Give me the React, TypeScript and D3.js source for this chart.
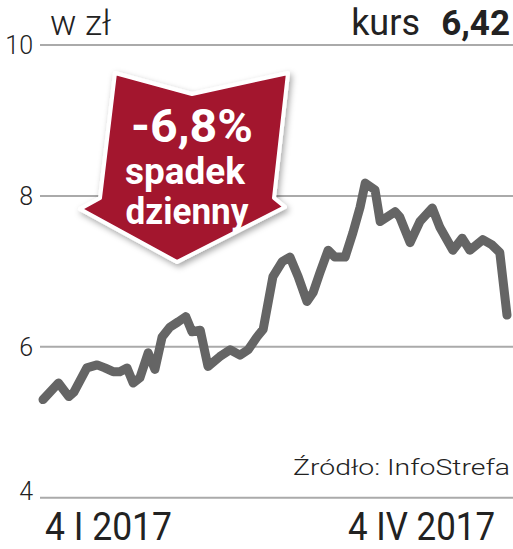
import React from "react";
import * as d3 from "d3";

// Calendar day offset from 4 I 2017, and closing price (zł)
const days = [0, 3, 5, 6, 8.5, 10.5, 12, 13.6, 14.9, 16.3, 17.5, 18.8, 20.4, 21.7, 23.1, 24.6, 26.2, 27.7, 28.9, 30.5, 32, 34.3, 36.3, 38.2, 39.8, 41.5, 42.7, 44.6, 46.4, 47.9, 49.5, 51.2, 52.4, 53.7, 55.3, 56.6, 58.6, 60.1, 61.5, 62.5, 64.4, 65.4, 68.3, 69.2, 71.2, 73.1, 75.5, 77, 79.5, 81.3, 82.8, 85.3, 87.1, 88.6, 90];
const values = [5.3, 5.52, 5.34, 5.4, 5.72, 5.76, 5.72, 5.67, 5.67, 5.72, 5.52, 5.59, 5.92, 5.7, 6.13, 6.26, 6.33, 6.4, 6.2, 6.22, 5.74, 5.87, 5.96, 5.89, 5.96, 6.13, 6.23, 6.93, 7.13, 7.19, 6.93, 6.6, 6.72, 6.98, 7.28, 7.19, 7.19, 7.51, 7.85, 8.17, 8.08, 7.66, 7.79, 7.72, 7.38, 7.66, 7.84, 7.58, 7.28, 7.44, 7.28, 7.42, 7.35, 7.25, 6.42];
const yTicks = [4, 6, 8, 10];
const xLabels = ["4 I 2017", "4 IV 2017"];
const unitLabel = "w zł";
const priceLabel = "kurs";
const priceValue = "6,42";
const changeLines = ["-6,8%", "spadek", "dzienny"];
const sourceLabel = "Źródło: InfoStrefa";

const W = 513;
const H = 549;

export default function App() {
  const x = d3.scaleLinear().domain([0, 90]).range([43, 507]);
  const y = d3.scaleLinear().domain([4, 10]).range([497.7, 45]);
  const line = d3
    .line<number>()
    .x((_, i) => x(days[i]))
    .y((d) => y(d));
  const pathD = line(values) || "";

  const arrowPts: [number, number][] = [
    [115, 73],
    [192, 94],
    [288, 73],
    [274, 198],
    [285, 207],
    [177, 262],
    [80, 209],
    [100, 198],
  ];
  const arrowD = "M" + arrowPts.map((p) => p.join(",")).join("L") + "Z";

  const font = "Roboto, 'DejaVu Sans', sans-serif";

  return (
    <svg
      width={W}
      height={H}
      viewBox={`0 0 ${W} ${H}`}
      style={{ position: "absolute", left: 0, top: 0, background: "#fff" }}
      fontFamily={font}
    >
      <defs>
        <filter id="sh" x="-20%" y="-20%" width="140%" height="140%">
          <feDropShadow dx="2" dy="3" stdDeviation="3" floodColor="#000" floodOpacity="0.35" />
        </filter>
      </defs>
      <rect width={W} height={H} fill="#fff" />
      {yTicks.map((t) => (
        <g key={t}>
          <line x1={40} x2={513} y1={y(t)} y2={y(t)} stroke="#aaaaaa" strokeWidth={2} />
          <text
            x={33}
            y={t === 4 ? y(t) + 2 : y(t) + 9}
            textAnchor="end"
            fontSize={25}
            fontWeight={300}
            fill="#222"
          >
            {t}
          </text>
        </g>
      ))}
      <text x={50} y={35} fontSize={35} fontWeight={300} fill="#222">
        {unitLabel}
      </text>
      <text x={420} y={35} textAnchor="end" fontSize={36} fontWeight={400} fill="#222">
        {priceLabel}
      </text>
      <text x={510} y={35} textAnchor="end" fontSize={35} fontWeight={700} fill="#222">
        {priceValue}
      </text>

      <path
        d={pathD}
        fill="none"
        stroke="#656565"
        strokeWidth={9}
        strokeLinejoin="round"
        strokeLinecap="round"
      />

      <path
        d={arrowD}
        fill="#a3122f"
        stroke="#fff"
        strokeWidth={4}
        strokeLinejoin="round"
        filter="url(#sh)"
      />
      <text x={192} y={142} textAnchor="middle" fontSize={46} fontWeight={700} fill="#fff" textLength={122} lengthAdjust="spacingAndGlyphs">
        {changeLines[0]}
      </text>
      <text x={185} y={184} textAnchor="middle" fontSize={37} fontWeight={700} fill="#fff" textLength={120} lengthAdjust="spacingAndGlyphs">
        {changeLines[1]}
      </text>
      <text x={187} y={224} textAnchor="middle" fontSize={37} fontWeight={700} fill="#fff" textLength={123} lengthAdjust="spacingAndGlyphs">
        {changeLines[2]}
      </text>

      <text x={510} y={475} textAnchor="end" fontSize={22} fontWeight={300} fill="#222" textLength={217} lengthAdjust="spacingAndGlyphs">
        {sourceLabel}
      </text>
      <text x={45} y={540} fontSize={38} fontWeight={400} fill="#222" textLength={127} lengthAdjust="spacingAndGlyphs">
        {xLabels[0]}
      </text>
      <text x={495} y={540} textAnchor="end" fontSize={38} fontWeight={400} fill="#222" textLength={147} lengthAdjust="spacingAndGlyphs">
        {xLabels[1]}
      </text>
    </svg>
  );
}
